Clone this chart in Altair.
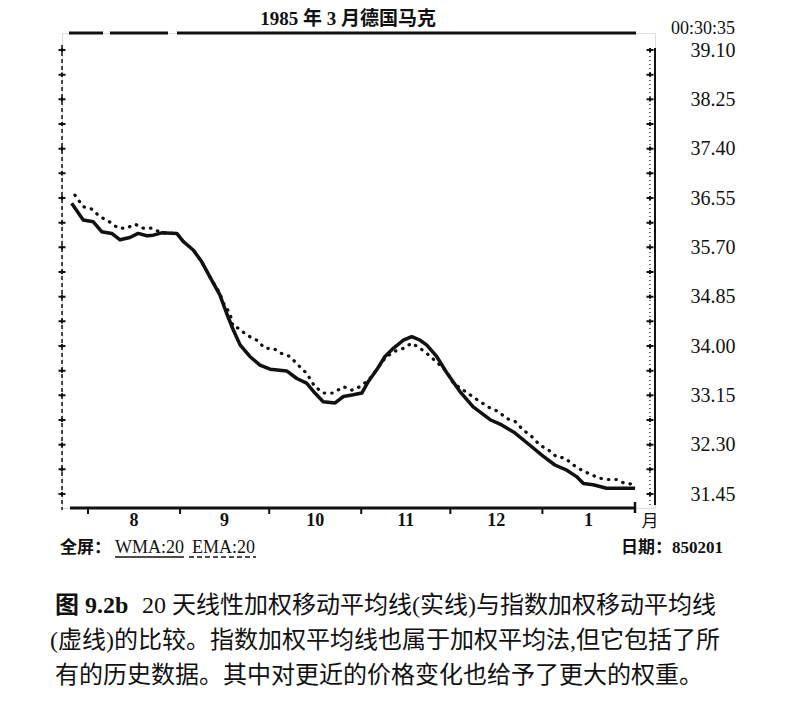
import altair as alt
import pandas as pd

# x = days since 1 Aug 1984
wma_day = [-5.5, -1.6, 1.8, 4.6, 8.0, 10.8, 14.1, 16.9, 19.8, 22.0, 24.8, 29.9, 32.1, 35.5,
           38.3, 41.6, 44.4, 46.7, 48.9, 51.2, 54.5, 57.9, 61.3, 66.9, 70.3, 73.6, 76.4, 79.2,
           83.2, 86.0, 89.3, 92.2, 94.4, 97.2, 100.0, 102.8, 106.2, 109.0, 111.8, 114.0, 117.4,
           120.8, 125.3, 129.7, 135.4, 139.3, 143.8, 148.8, 152.8, 157.2, 161.2, 164.5, 166.8,
           170.1, 174.6, 184.2]
wma_val = [36.46, 36.17, 36.14, 35.97, 35.94, 35.83, 35.87, 35.94, 35.90, 35.91, 35.95, 35.94,
           35.80, 35.65, 35.45, 35.14, 34.88, 34.56, 34.28, 34.02, 33.82, 33.67, 33.60, 33.57,
           33.44, 33.36, 33.19, 33.04, 33.02, 33.13, 33.16, 33.19, 33.39, 33.59, 33.82, 33.96,
           34.10, 34.16, 34.10, 34.02, 33.82, 33.54, 33.21, 32.95, 32.73, 32.64, 32.50, 32.29,
           32.12, 31.95, 31.86, 31.75, 31.63, 31.61, 31.55, 31.55]

ema_day = [-4.4, -1.6, 1.2, 4.0, 7.2, 10.2, 13.0, 15.8, 18.6, 21.4, 24.8, 29.9, 32.1, 35.5,
           38.3, 41.6, 44.4, 45.6, 47.8, 48.9, 50.6, 53.4, 56.8, 59.6, 62.4, 65.2, 68.0, 70.8,
           73.6, 76.4, 79.2, 82.6, 86.0, 88.8, 91.6, 94.4, 97.2, 100.0, 102.8, 106.2, 109.0,
           111.8, 114.6, 117.9, 120.8, 123.0, 128.6, 132.0, 135.4, 138.2, 141.0, 143.8, 146.6,
           149.4, 152.2, 155.0, 157.8, 160.6, 163.4, 166.2, 169.6, 172.4, 175.2, 178.0, 180.8,
           183.6]
ema_val = [36.60, 36.40, 36.36, 36.23, 36.14, 36.03, 36.03, 36.10, 36.03, 36.03, 35.95, 35.94,
           35.80, 35.65, 35.45, 35.14, 34.91, 34.74, 34.56, 34.33, 34.31, 34.19, 34.10, 33.96,
           33.96, 33.87, 33.82, 33.67, 33.53, 33.30, 33.19, 33.19, 33.30, 33.24, 33.30, 33.41,
           33.59, 33.79, 33.90, 33.96, 34.05, 33.96, 33.85, 33.70, 33.56, 33.36, 33.16, 33.04,
           32.93, 32.87, 32.75, 32.70, 32.55, 32.44, 32.29, 32.21, 32.09, 32.07, 31.95, 31.86,
           31.78, 31.72, 31.70, 31.70, 31.63, 31.62]

month_labels = ["8", "9", "10", "11", "12", "1"]
month_start_day = [0, 31, 61, 92, 122, 153, 184]   # 1 Aug 1984 ... 1 Feb 1985

y_major = [31.45, 32.30, 33.15, 34.00, 34.85, 35.70, 36.55, 37.40, 38.25, 39.10]
y_minor = [31.875, 32.725, 33.575, 34.425, 35.275, 36.125, 36.975, 37.825, 38.675]

title_text = "1985 年 3 月德国马克"
clock_text = "00:30:35"
unit_text = "月"
footer_left = "全屏："
wma_label = "WMA:20"
ema_label = "EMA:20"
date_text = "日期：850201"
caption_fig = "图 9.2b"
caption_1 = "20 天线性加权移动平均线(实线)与指数加权移动平均线"
caption_2 = "(虚线)的比较。指数加权平均线也属于加权平均法,但它包括了所"
caption_3 = "有的历史数据。其中对更近的价格变化也给予了更大的权重。"

W, H = 593, 475
INK = "#111111"
SERIF = "'Liberation Serif', 'Noto Sans CJK SC'"
CJK = "'Noto Sans CJK SC'"

xs = alt.Scale(domain=[-8.75, 190.91], nice=False, zero=False)
ys = alt.Scale(domain=[31.209, 39.393], nice=False, zero=False)
yaxis = alt.Axis(orient="right", values=y_major, format=".2f", ticks=False, tickSize=0,
                 domain=False, grid=False, labelPadding=80, labelAlign="right",
                 labelBaseline="middle", labelFont="Liberation Serif", labelFontSize=20,
                 labelColor=INK, title=None, labelFlush=False, labelOverlap=False)


def X(f):
    return alt.X(f"{f}:Q", scale=xs, axis=None)


def Y(f):
    return alt.Y(f"{f}:Q", scale=ys, axis=yaxis)


one = pd.DataFrame({"k": [0]})


def rule(x, x2=None, y=None, y2=None, **kw):
    enc = {"x": alt.value(x), "y": alt.value(y)}
    if x2 is not None:
        enc["x2"] = alt.value(x2)
    if y2 is not None:
        enc["y2"] = alt.value(y2)
    return alt.Chart(one).mark_rule(color=INK, **kw).encode(**enc)


def txt(s, x, y, **kw):
    return alt.Chart(pd.DataFrame({"t": [s]})).mark_text(color=INK, **kw).encode(
        x=alt.value(x), y=alt.value(y), text="t:N")


wma_df = pd.DataFrame({"day": wma_day, "value": wma_val})
ema_df = pd.DataFrame({"day": ema_day, "value": ema_val})
ticks_df = pd.DataFrame({"v": sorted(y_major + y_minor)})
mid = [(a + b) / 2 for a, b in zip(month_start_day[:-1], month_start_day[1:])]
month_df = pd.DataFrame({"label": month_labels, "mid": mid})
bound_df = pd.DataFrame({"day": month_start_day[:-1]})

solid = alt.Chart(wma_df).mark_line(color=INK, strokeWidth=3.5, strokeJoin="round").encode(
    x=X("day"), y=Y("value"))
dotted = alt.Chart(ema_df).mark_line(color=INK, strokeWidth=3.2, strokeDash=[0.5, 7],
                                     strokeCap="round").encode(x=X("day"), y=Y("value"))

cross = "M-1,0L1,0M0,-0.6L0,0.6"
left_cross = alt.Chart(ticks_df).mark_point(shape=cross, size=49, strokeWidth=2, color=INK,
                                            filled=False, opacity=1).encode(
    x=alt.value(0), y=Y("v"))
right_cross = alt.Chart(ticks_df).mark_point(shape=cross, size=49, strokeWidth=2, color=INK,
                                             filled=False, opacity=1).encode(
    x=alt.value(588), y=Y("v"))

month_text = alt.Chart(month_df).mark_text(font="Liberation Serif", fontWeight="bold",
                                           fontSize=18, color=INK, baseline="middle").encode(
    x=X("mid"), y=alt.value(488), text="label:N")
month_ticks = alt.Chart(bound_df).mark_rule(color=INK, strokeWidth=2).encode(
    x=X("day"), y=alt.value(475), y2=alt.value(481))

layers = [
    rule(0, y=12, y2=477, strokeDash=[4, 3], strokeWidth=1.5),
    rule(593, y=15, y2=472, strokeWidth=2),
    rule(588, y=15, y2=472, strokeDash=[1, 3], strokeWidth=1.2),
    rule(7, x2=41, y=0, strokeWidth=3),
    rule(48, x2=106, y=0, strokeWidth=3),
    rule(115, x2=574, y=0, strokeWidth=3),
    rule(8, x2=573, y=475, strokeWidth=3),
    rule(573, y=469, y2=480, strokeWidth=2.5),
    month_ticks,
    left_cross,
    right_cross,
    solid,
    dotted,
    month_text,
    txt(title_text, 286, -14, font=SERIF, fontSize=19, fontWeight="bold", align="center",
        baseline="middle"),
    txt(clock_text, 673, -4, font="Liberation Serif", fontSize=18, align="right",
        baseline="middle"),
    txt(unit_text, 588, 489, font=CJK, fontSize=17, align="center", baseline="middle"),
    txt(footer_left, -2, 515, font=CJK, fontSize=17, fontWeight="bold", align="left",
        baseline="middle"),
    txt(wma_label, 53, 515, font="Liberation Serif", fontSize=18, align="left",
        baseline="middle"),
    rule(53, x2=122, y=524, strokeWidth=1.5),
    txt(ema_label, 130, 515, font="Liberation Serif", fontSize=18, align="left",
        baseline="middle"),
    rule(127, x2=194, y=524, strokeWidth=1.5, strokeDash=[5, 3]),
    txt(date_text, 559, 515, font=SERIF, fontSize=17, fontWeight="bold", align="left",
        baseline="middle"),
    txt(caption_fig, -7, 573, font=SERIF, fontSize=24, fontWeight="bold", align="left",
        baseline="middle"),
    txt(caption_1, 80, 573, font=SERIF, fontSize=24, align="left", baseline="middle"),
    txt(caption_2, -12, 608, font=SERIF, fontSize=24, align="left", baseline="middle"),
    txt(caption_3, -7, 643, font=SERIF, fontSize=24, align="left", baseline="middle"),
]

chart = alt.layer(*layers).properties(
    width=W, height=H,
    padding={"left": 54, "top": 25, "right": 137, "bottom": 189},
    autosize=alt.AutoSizeParams(type="none"),
).configure_view(strokeWidth=0).configure(background="white")

chart.save("out.html", embed_options={"renderer": "svg", "actions": False})
